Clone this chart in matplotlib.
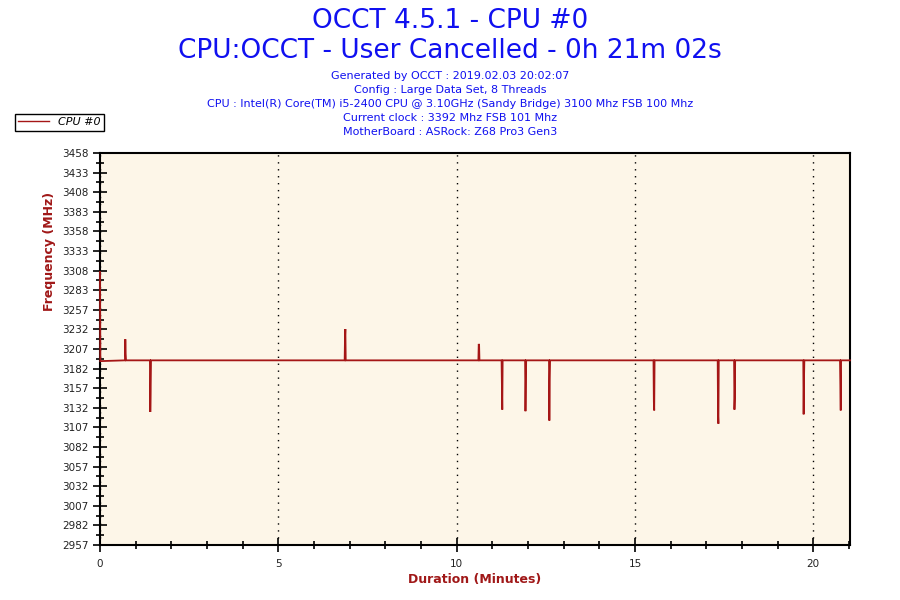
import numpy as np
import matplotlib
matplotlib.use("Agg")
import matplotlib.pyplot as plt
from matplotlib.ticker import MultipleLocator, FixedLocator

# Datos (minutos, MHz)
tiempos = [0.00, 0.01, 0.70, 0.71, 0.72, 0.73, 1.40, 1.41, 1.42, 1.43,
           6.86, 6.87, 6.88, 6.89, 10.61, 10.62, 10.63, 10.64,
           11.26, 11.27, 11.28, 11.29, 11.92, 11.93, 11.94, 11.95,
           12.59, 12.60, 12.61, 12.62, 15.52, 15.53, 15.54, 15.55,
           17.32, 17.33, 17.34, 17.35, 17.78, 17.79, 17.80, 17.81,
           19.72, 19.73, 19.74, 19.75, 20.75, 20.76, 20.77, 20.78, 21.03]
frecuencias = [3306, 3192, 3193, 3220, 3201, 3193, 3193, 3127, 3153, 3193,
               3193, 3223, 3233, 3193, 3193, 3214, 3212, 3193,
               3193, 3160, 3130, 3193, 3193, 3128, 3160, 3193,
               3193, 3116, 3167, 3193, 3193, 3140, 3129, 3193,
               3193, 3123, 3112, 3193, 3193, 3130, 3144, 3193,
               3193, 3124, 3169, 3193, 3193, 3159, 3129, 3193, 3193]

etiquetas_y = ['2957', '2982', '3007', '3032', '3057', '3082', '3107',
               '3132', '3157', '3182', '3207', '3232', '3257', '3283',
               '3308', '3333', '3358', '3383', '3408', '3433', '3458']

titulo1 = 'OCCT 4.5.1 - CPU #0'
titulo2 = 'CPU:OCCT - User Cancelled - 0h 21m 02s'
info = ['Generated by OCCT : 2019.02.03 20:02:07',
        'Config : Large Data Set, 8 Threads',
        'CPU : Intel(R) Core(TM) i5-2400 CPU @ 3.10GHz (Sandy Bridge) 3100 Mhz FSB 100 Mhz',
        'Current clock : 3392 Mhz FSB 101 Mhz',
        'MotherBoard : ASRock: Z68 Pro3 Gen3']

AZUL = '#1010f0'
ROJO = '#a51616'
ROJO_ETIQ = '#a01818'

fig = plt.figure(figsize=(9, 6), dpi=100)
fig.patch.set_facecolor('white')
ax = fig.add_axes([100/900, 55/600, 750/900, 392/600])
ax.set_facecolor('#fdf6e8')

linea, = ax.plot(tiempos, frecuencias, color=ROJO, lw=1.3, label='CPU #0',
                 solid_joinstyle='miter', zorder=3, clip_on=False)

ax.set_xlim(0, 21.03)
ax.set_ylim(2957, 3458)
ax.yaxis.set_major_locator(FixedLocator(np.linspace(2957, 3458, 21)))
ax.set_yticklabels(etiquetas_y)
ax.yaxis.set_minor_locator(FixedLocator(np.linspace(2957, 3458, 41)))
ax.xaxis.set_major_locator(MultipleLocator(5))
ax.xaxis.set_minor_locator(MultipleLocator(1))

ax.tick_params(which='major', direction='inout', length=10, width=1.2,
               labelsize=7.5, labelcolor='#222222', pad=3)
ax.tick_params(which='minor', direction='inout', length=6, width=1.2)
ax.tick_params(axis='x', which='major', pad=5)

for s in ax.spines.values():
    s.set_linewidth(1.5)
    s.set_color('black')

ax.grid(axis='x', which='major', color='black', linestyle=(0, (1, 4)), lw=1.0)

fig.text(0.5, 1 - 21/600, titulo1, ha='center', va='center', fontsize=19, color=AZUL)
fig.text(0.5, 1 - 51/600, titulo2, ha='center', va='center', fontsize=19, color=AZUL)
for i, linea_info in enumerate(info):
    fig.text(0.5, 1 - (76 + 14*i)/600, linea_info, ha='center', va='center',
             fontsize=8, color=AZUL)

fig.text(50/900, 349/600, 'Frequency (MHz)', rotation=90, ha='center', va='center',
         fontsize=9, fontweight='bold', color=ROJO_ETIQ)
fig.text(475/900, 1 - 579/600, 'Duration (Minutes)', ha='center', va='center',
         fontsize=9, fontweight='bold', color=ROJO_ETIQ)

leg = fig.legend(handles=[linea], loc='upper left', bbox_to_anchor=(15/900, 1 - 114/600),
                 fancybox=False, edgecolor='black', framealpha=1,
                 prop={'style': 'italic', 'size': 8}, handlelength=2.8,
                 borderpad=0.3, borderaxespad=0)
leg.get_frame().set_linewidth(1.0)
leg.get_lines()[0].set_linewidth(1.0)

fig.savefig('out.png', dpi=100)
